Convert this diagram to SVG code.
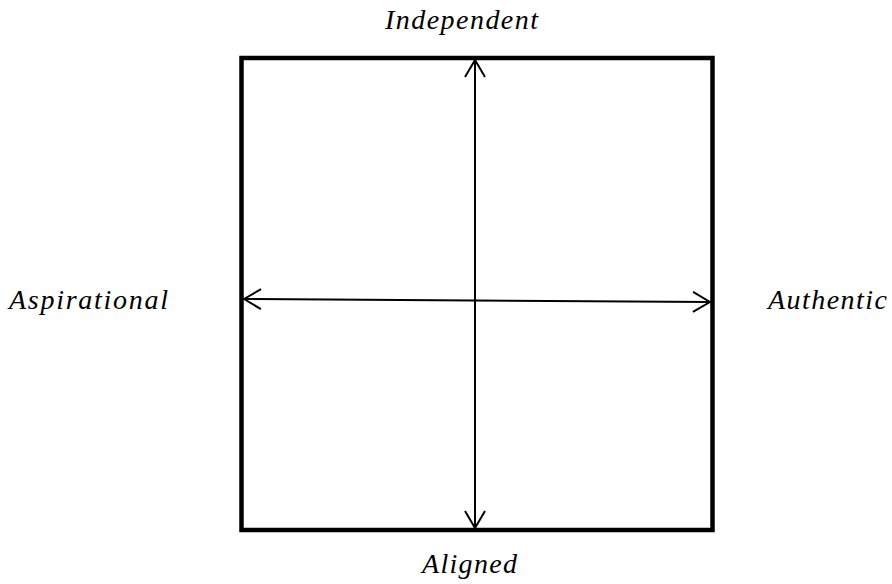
<svg xmlns="http://www.w3.org/2000/svg" width="892" height="584" viewBox="0 0 892 584">
  <defs>
    <marker id="chev" viewBox="0 0 20 24" refX="19" refY="12" markerWidth="20" markerHeight="24" markerUnits="userSpaceOnUse" orient="auto-start-reverse">
      <path d="M2,2 L19,12 L2,22" fill="none" stroke="#000" stroke-width="2"/>
    </marker>
    <style>
      .frame { fill: none; stroke: #000; stroke-width: 4.5; }
      .axis { stroke: #000; stroke-width: 2; fill: none; marker-start: url(#chev); marker-end: url(#chev); }
      .label { font-family: "Liberation Serif", "Times New Roman", serif; font-style: italic; font-size: 28px; fill: #000; }
    </style>
  </defs>
  <rect width="892" height="584" fill="#fff"/>
  <g id="frame">
    <rect class="frame" x="241.5" y="58" width="471" height="472"/>
  </g>
  <g id="connectors">
    <line class="axis" x1="475" y1="60" x2="475" y2="528"/>
    <line class="axis" x1="244" y1="299" x2="710" y2="302"/>
  </g>
  <g id="label-independent">
    <text class="label" x="385" y="29" textLength="153" lengthAdjust="spacing">Independent</text>
  </g>
  <g id="label-aligned">
    <text class="label" x="422" y="573" textLength="95" lengthAdjust="spacing">Aligned</text>
  </g>
  <g id="label-aspirational">
    <text class="label" x="9" y="309" textLength="159" lengthAdjust="spacing">Aspirational</text>
  </g>
  <g id="label-authentic">
    <text class="label" x="768" y="309" textLength="119" lengthAdjust="spacing">Authentic</text>
  </g>
</svg>
